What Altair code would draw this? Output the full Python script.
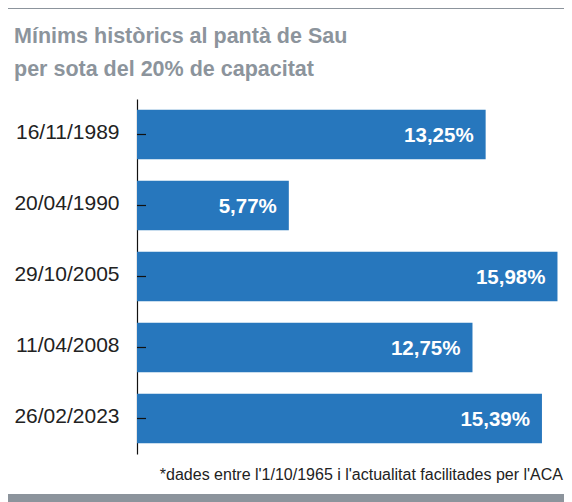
import altair as alt
import pandas as pd

dates = ["16/11/1989", "20/04/1990", "29/10/2005", "11/04/2008", "26/02/2023"]
values = [13.25, 5.77, 15.98, 12.75, 15.39]
title_lines = ["Mínims històrics al pantà de Sau", "per sota del 20% de capacitat"]
footnote = ["*dades entre l'1/10/1965 i l'actualitat facilitades per l'ACA"]

df = pd.DataFrame({"date": dates, "value": values})

FONT = "Liberation Sans, Arial, sans-serif"
BLUE = "#2777bd"
GRAY = "#8c949c"

W, H = 421, 355
PAD = {"left": 129, "top": 91, "right": 6, "bottom": 48}

y_enc = alt.Y(
    "date:N",
    sort=dates,
    title=None,
    scale=alt.Scale(paddingInner=0.3, paddingOuter=0.15),
    axis=alt.Axis(
        ticks=False,
        domain=True,
        domainColor="#111111",
        domainWidth=1.2,
        labelPadding=18,
        labelFontSize=21,
        labelFont=FONT,
        labelColor="#222222",
        labelBaseline="middle",
        labelAlign="right",
        labelOffset=-2,
    ),
)
x_enc = alt.X("value:Q", title=None, axis=None, scale=alt.Scale(domain=[0, 16], nice=False))

base = alt.Chart(df)

bars = base.mark_bar(color=BLUE).encode(x=x_enc, y=y_enc)

ticks = base.mark_rule(color="#111111", strokeWidth=1.2).encode(
    y=alt.Y("date:N", sort=dates),
    x=alt.value(0),
    x2=alt.value(9),
)

labels = base.transform_calculate(frac="datum.value / 100").mark_text(
    align="right", baseline="middle", dx=-12, dy=1,
    font=FONT, fontSize=20.5, fontWeight="bold", color="white",
).encode(
    x=alt.X("value:Q"),
    y=alt.Y("date:N", sort=dates),
    text=alt.Text("frac:Q", format=".2%"),
)

note = alt.Chart(pd.DataFrame({"t": footnote})).mark_text(
    align="right", baseline="alphabetic", font=FONT, fontSize=16, color="#222222",
).encode(
    text="t:N",
    x=alt.value(555 - 129),
    y=alt.value(472 - 91),
)

title_df = pd.DataFrame({"t": title_lines, "yy": [-56, -23]})
title = alt.Chart(title_df).mark_text(
    align="left", baseline="alphabetic", font=FONT, fontSize=21.5,
    fontWeight="bold", color=GRAY,
).encode(
    text="t:N",
    x=alt.value(-123),
    y=alt.Y("yy:Q", scale=None),
)

band_df = pd.DataFrame({"b": ["top", "bottom"], "y0": [-91, 395], "y1": [-90, 410]})
bands = alt.Chart(band_df).mark_rect(color=GRAY).encode(
    x=alt.value(-129),
    x2=alt.value(W + 6),
    y=alt.Y("y0:Q", scale=None),
    y2=alt.Y2("y1:Q"),
)

chart = alt.layer(bars, ticks, labels, note, title, bands).properties(
    width=W,
    height=H,
    padding=PAD,
    autosize=alt.AutoSizeParams(type="none"),
).configure(
    locale={"number": {"decimal": ",", "thousands": ".", "grouping": [3], "currency": ["", " €"]}},
    view=alt.ViewConfig(strokeWidth=0),
)

chart.save("out.html", embed_options={"renderer": "svg", "actions": False})
